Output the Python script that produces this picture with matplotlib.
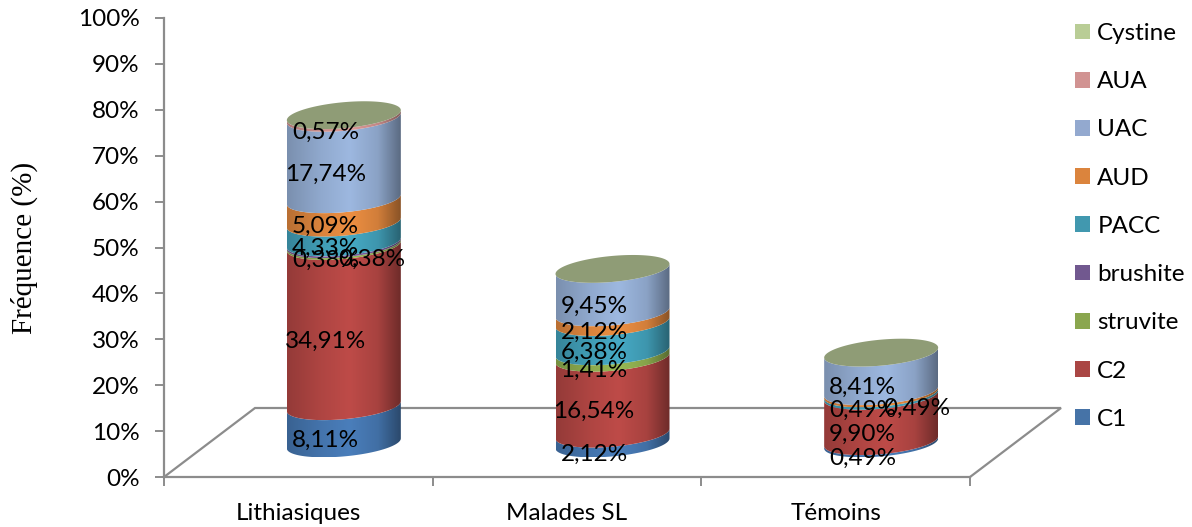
import numpy as np
import matplotlib
matplotlib.use('Agg')
import matplotlib.pyplot as plt
from matplotlib.patches import Patch
from matplotlib.path import Path
from matplotlib.colors import to_rgb

categories = ['Lithiasiques', 'Malades SL', 'Témoins']
series_names = ['C1', 'C2', 'struvite', 'brushite', 'PACC', 'AUD', 'UAC', 'AUA', 'Cystine']

c1 = [8.11, 2.12, 0.49]
c2 = [34.91, 16.54, 9.90]
struvite = [0.38, 1.41, 0]
brushite = [0.38, 0, 0]
pacc = [4.33, 6.38, 0.49]
aud = [5.09, 2.12, 0.49]
uac = [17.74, 9.45, 8.41]
aua = [0.57, 0, 0]
cystine = [0, 0, 0]
all_series = [c1, c2, struvite, brushite, pacc, aud, uac, aua, cystine]

colors = ['#4a7ebb', '#be4b48', '#98b954', '#7d60a0', '#46aac5', '#ed8f42', '#9db8e0', '#dd9a98', '#bcd39a']
legend_colors = ['#4673a7', '#aa4644', '#8aa64e', '#71588f', '#4198af', '#db843d', '#93a9cf', '#d19392', '#b9cd96']
top_color = '#8f9c76'
grey = '#8c8c8c'
font_size = 17.5

W, H = 1192, 527
LEFT, RIGHT, TOP, BOTTOM = 164, 970, 18, 477
px_x = 3.0 / (RIGHT - LEFT)
px_y = 100.0 / (BOTTOM - TOP)

# cylinder shape, converted from pixels to data units
half_w = 57 * px_x
half_h = 13 * px_y
tilt = 5 * px_y
depth_x = 91 * px_x
depth_y = 69 * px_y
base = depth_y / 2 - 0.2

plt.rcParams['font.family'] = ['Lato', 'DejaVu Sans']
fig = plt.figure(figsize=(W / 100, H / 100), dpi=100)
ax = fig.add_axes([LEFT / W, 1 - BOTTOM / H, (RIGHT - LEFT) / W, (BOTTOM - TOP) / H])


def front_arc(cx, cy, reverse=False):
    t = np.linspace(np.pi, 2 * np.pi, 60)
    if reverse:
        t = t[::-1]
    return np.column_stack([cx + half_w * np.cos(t), cy + half_h * np.sin(t) + tilt * np.cos(t)])


def shaded(color):
    # darker towards both sides of the cylinder
    pos = np.linspace(0, 1, 200)
    shade = np.interp(pos, [0, 0.3, 0.55, 0.8, 1], [0.78, 0.92, 1.0, 0.88, 0.58])
    return (np.array(to_rgb(color))[None, None, :] * shade[None, :, None]).clip(0, 1)


# floor of the chart
floor_x = [-0.5, -0.5 + depth_x, 2.5 + depth_x, 2.5]
floor_y = [0, depth_y, depth_y, 0]
ax.plot(floor_x, floor_y, color=grey, lw=1.6, clip_on=False, zorder=1, solid_joinstyle='miter')

for i in range(len(categories)):
    cx = i + depth_x / 2
    level = base
    for values, color in zip(all_series, colors):
        v = values[i]
        if v == 0:
            continue
        bottom_arc = front_arc(cx, level)
        top_arc = front_arc(cx, level + v, reverse=True)
        outline = np.vstack([bottom_arc, top_arc, bottom_arc[:1]])
        ymin, ymax = outline[:, 1].min(), outline[:, 1].max()
        im = ax.imshow(shaded(color), extent=(cx - half_w, cx + half_w, ymin, ymax),
                       aspect='auto', zorder=2, interpolation='bilinear')
        im.set_clip_path(Path(outline), ax.transData)
        level += v
    t = np.linspace(0, 2 * np.pi, 120)
    ax.fill(cx + half_w * np.cos(t), level + half_h * np.sin(t) + tilt * np.cos(t),
            color=top_color, lw=0, zorder=3)

# value labels, the crowded ones pushed sideways
label_dx = 27 * px_x
label_dy = -17 * px_y
nudge = {(0, 3): 46 * px_x, (2, 5): 54 * px_x}
for i in range(len(categories)):
    level = base + 0.3
    for k, values in enumerate(all_series):
        v = values[i]
        if v == 0:
            continue
        text = f'{v:.2f}%'.replace('.', ',')
        ax.text(i + label_dx + nudge.get((i, k), 0), level + v / 2 + label_dy, text,
                ha='center', va='center', fontsize=font_size, color='black', zorder=5, clip_on=False)
        level += v

ax.set_xlim(-0.5, 2.5)
ax.set_ylim(0, 100)

for side in ['top', 'right']:
    ax.spines[side].set_visible(False)
for side in ['left', 'bottom']:
    ax.spines[side].set_color(grey)
    ax.spines[side].set_linewidth(1.6)

ax.set_yticks(np.arange(0, 101, 10))
ax.set_yticklabels([f'{p}%' for p in range(0, 101, 10)], fontsize=font_size)
ax.set_xticks([-0.5, 0.5, 1.5, 2.5])
ax.set_xticklabels([])
ax.set_xticks([0, 1, 2], minor=True)
ax.set_xticklabels(categories, minor=True, fontsize=font_size)
ax.tick_params(axis='both', which='major', length=6.5, width=1.4, color=grey, pad=11)
ax.tick_params(axis='x', which='minor', length=0, pad=19)

fig.text(24 / W, 1 - 248 / H, 'Fréquence (%)', rotation=90, ha='center', va='center',
         family='Liberation Serif', fontsize=21)

handles = [Patch(facecolor=c, edgecolor='none') for c in legend_colors]
ax.legend(handles[::-1], series_names[::-1], loc='upper left',
          bbox_to_anchor=(1075 / W, 1 - 23 / H), bbox_transform=fig.transFigure,
          frameon=False, fontsize=font_size, labelspacing=1.12, handlelength=0.62,
          handleheight=0.62, handletextpad=0.3, borderpad=0, borderaxespad=0)

fig.savefig('out.png', dpi=100)
